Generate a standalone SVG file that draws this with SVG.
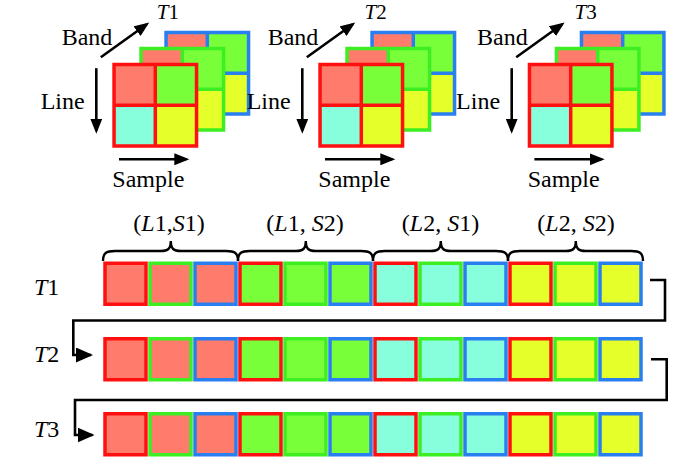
<svg xmlns="http://www.w3.org/2000/svg" xmlns:xlink="http://www.w3.org/1999/xlink" width="700" height="459" viewBox="0 0 700 459">
<style>
text{font-family:"Liberation Serif","Times New Roman",serif;fill:#000;}
.lbl{font-size:24px;}
.tl{font-size:21px;}
.it{font-style:italic;}
.ax{stroke:#000;stroke-width:2.6;fill:none;}
.con{stroke:#000;stroke-width:2.6;fill:none;}
.brace{stroke:#000;stroke-width:2.4;fill:none;}
.sq{stroke-width:3.5;}
.r{stroke:#ff1010;}
.g{stroke:#3cee22;}
.b{stroke:#2a7ff0;}
.fs{fill:#ff7b6b;}
.fg{fill:#78ff3a;}
.fc{fill:#88ffdc;}
.fy{fill:#e4ff2a;}
</style>
<defs>
<marker id="ah" markerUnits="userSpaceOnUse" markerWidth="16" markerHeight="12" refX="12" refY="6" orient="auto">
<path d="M0,0 L15,6 L0,12 z" fill="#000"/>
</marker>
<marker id="ah2" markerUnits="userSpaceOnUse" markerWidth="18" markerHeight="15" refX="15" refY="7.5" orient="auto">
<path d="M0,0 L17,7.5 L0,15 z" fill="#000"/>
</marker>
<g id="layer">
<rect x="1.75" y="1.75" width="41.25" height="40.75" class="fs"/>
<rect x="43" y="1.75" width="41.25" height="40.75" class="fg"/>
<rect x="1.75" y="42.5" width="41.25" height="40.75" class="fc"/>
<rect x="43" y="42.5" width="41.25" height="40.75" class="fy"/>
<path d="M1.75 1.75 H84.25 V83.25 H1.75 Z M43 1.75 V83.25 M1.75 42.5 H84.25" fill="none" stroke-width="3.5"/>
</g>
<g id="cube">
<use xlink:href="#layer" href="#layer" x="52" y="-32" stroke="#2a7ff0"/>
<use xlink:href="#layer" href="#layer" x="27" y="-16" stroke="#3cee22"/>
<use xlink:href="#layer" href="#layer" x="0" y="0" stroke="#ff1010"/>
<line class="ax" x1="-11.5" y1="-5.5" x2="34.5" y2="-38.5" marker-end="url(#ah)"/>
<line class="ax" x1="-16" y1="5.5" x2="-16" y2="68" marker-end="url(#ah)"/>
<line class="ax" x1="6.7" y1="96.6" x2="74" y2="96.6" marker-end="url(#ah)"/>
<text class="lbl" x="-50.6" y="-18.2">Band</text>
<text class="lbl" x="-71.6" y="46.3">Line</text>
<text class="lbl" x="0" y="124.8">Sample</text>
</g>
</defs>

<g id="cube-T1">
<use xlink:href="#cube" href="#cube" transform="translate(112.3,62.7)"/>
<text class="tl" x="156.7" y="19.3"><tspan class="it">T</tspan>1</text>
</g>
<g id="cube-T2">
<use xlink:href="#cube" href="#cube" transform="translate(318.3,62.7)"/>
<text class="tl" x="364.5" y="19.3"><tspan class="it">T</tspan>2</text>
</g>
<g id="cube-T3">
<use xlink:href="#cube" href="#cube" transform="translate(527.7,62.7)"/>
<text class="tl" x="574.5" y="19.3"><tspan class="it">T</tspan>3</text>
</g>

<g id="braces">
<path class="brace" d="M103,261 C103,253 106,251 115,251 L160.8,251 C167.8,251 170.8,249 170.8,241 C170.8,249 173.8,251 180.8,251 L226,251 C235,251 238,253 238,261"/>
<path class="brace" d="M238,261 C238,253 241,251 250,251 L295.8,251 C302.8,251 305.8,249 305.8,241 C305.8,249 308.8,251 315.8,251 L361,251 C370,251 373,253 373,261"/>
<path class="brace" d="M373,261 C373,253 376,251 385,251 L430.8,251 C437.8,251 440.8,249 440.8,241 C440.8,249 443.8,251 450.8,251 L496,251 C505,251 508,253 508,261"/>
<path class="brace" d="M508,261 C508,253 511,251 520,251 L565.8,251 C572.8,251 575.8,249 575.8,241 C575.8,249 578.8,251 585.8,251 L631,251 C640,251 643,253 643,261"/>
<text class="lbl" x="169" y="231" text-anchor="middle">(<tspan class="it">L</tspan>1,<tspan class="it">S</tspan>1)</text>
<text class="lbl" x="305" y="231" text-anchor="middle">(<tspan class="it">L</tspan>1, <tspan class="it">S</tspan>2)</text>
<text class="lbl" x="440.5" y="231" text-anchor="middle">(<tspan class="it">L</tspan>2, <tspan class="it">S</tspan>1)</text>
<text class="lbl" x="576" y="231" text-anchor="middle">(<tspan class="it">L</tspan>2, <tspan class="it">S</tspan>2)</text>
</g>

<defs>
<g id="strip">
<rect class="sq r fs" x="105" y="1.75" width="41" height="41"/>
<rect class="sq g fs" x="150" y="1.75" width="41" height="41"/>
<rect class="sq b fs" x="195" y="1.75" width="41" height="41"/>
<rect class="sq r fg" x="240" y="1.75" width="41" height="41"/>
<rect class="sq g fg" x="285" y="1.75" width="41" height="41"/>
<rect class="sq b fg" x="330" y="1.75" width="41" height="41"/>
<rect class="sq r fc" x="375" y="1.75" width="41" height="41"/>
<rect class="sq g fc" x="420" y="1.75" width="41" height="41"/>
<rect class="sq b fc" x="465" y="1.75" width="41" height="41"/>
<rect class="sq r fy" x="510" y="1.75" width="41" height="41"/>
<rect class="sq g fy" x="555" y="1.75" width="41" height="41"/>
<rect class="sq b fy" x="600" y="1.75" width="41" height="41"/>
</g>
</defs>

<g id="row-T1">
<use xlink:href="#strip" href="#strip" y="261.5"/>
<text class="lbl" x="34" y="295"><tspan class="it">T</tspan>1</text>
</g>
<g id="row-T2">
<use xlink:href="#strip" href="#strip" y="337"/>
<text class="lbl" x="34" y="361.5"><tspan class="it">T</tspan>2</text>
</g>
<g id="row-T3">
<use xlink:href="#strip" href="#strip" y="412"/>
<text class="lbl" x="34" y="436.5"><tspan class="it">T</tspan>3</text>
</g>

<g id="connectors">
<path class="con" d="M650,280 H665 V320.5 H73.3 V355 H91" marker-end="url(#ah2)"/>
<path class="con" d="M651,359.3 H666.7 V400 H75 V435 H92.5" marker-end="url(#ah2)"/>
</g>
</svg>
